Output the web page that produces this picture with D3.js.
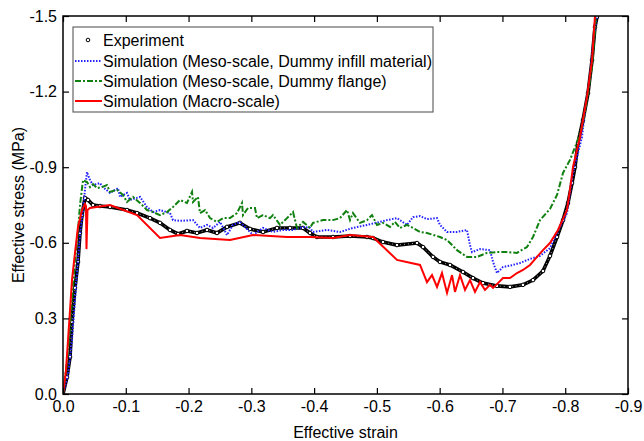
<!DOCTYPE html>
<html>
<head>
<meta charset="utf-8">
<script src="https://cdn.jsdelivr.net/npm/d3@7"></script>
<style>
  body { margin: 0; background: #fff; }
  text { font-family: "Liberation Sans", Arial, sans-serif; fill: #000; }
</style>
</head>
<body>
<div id="chart"></div>
<script>
// tick values and their printed labels (as in the original figure)
const xTicks = [0, -0.1, -0.2, -0.3, -0.4, -0.5, -0.6, -0.7, -0.8, -0.9];
const xTickLabels = ["0.0", "-0.1", "-0.2", "-0.3", "-0.4", "-0.5", "-0.6", "-0.7", "-0.8", "-0.9"];
const yTicks = [0, -0.3, -0.6, -0.9, -1.2, -1.5];
const yTickLabels = ["0.0", "0.3", "-0.6", "-0.9", "-1.2", "-1.5"];

const seriesNames = [
  "Experiment",
  "Simulation (Meso-scale, Dummy infill material)",
  "Simulation (Meso-scale, Dummy flange)",
  "Simulation (Macro-scale)"
];

// [effective strain, effective stress (MPa)]
const experiment = [
  [0,0],[-0.0064,-0.067],[-0.0112,-0.147],[-0.0143,-0.286],[-0.0191,-0.421],[-0.0239,-0.524],
  [-0.0271,-0.639],[-0.0303,-0.710],[-0.0350,-0.778],[-0.0398,-0.770],[-0.0478,-0.750],
  [-0.0589,-0.746],[-0.0749,-0.742],[-0.1019,-0.730],[-0.1179,-0.718],[-0.1386,-0.698],
  [-0.1545,-0.679],[-0.1704,-0.651],[-0.1832,-0.635],[-0.1975,-0.647],[-0.2134,-0.639],
  [-0.2294,-0.651],[-0.2453,-0.639],[-0.2612,-0.663],[-0.2819,-0.679],[-0.2979,-0.655],
  [-0.3186,-0.643],[-0.3409,-0.659],[-0.3616,-0.659],[-0.3823,-0.659],[-0.3934,-0.639],
  [-0.4046,-0.623],[-0.4301,-0.623],[-0.4572,-0.627],[-0.4843,-0.623],[-0.4938,-0.619],
  [-0.5097,-0.603],[-0.5320,-0.591],[-0.5639,-0.599],[-0.5735,-0.583],[-0.5894,-0.544],
  [-0.6005,-0.524],[-0.6165,-0.512],[-0.6372,-0.484],[-0.6531,-0.460],[-0.6690,-0.440],
  [-0.6913,-0.429],[-0.7120,-0.425],[-0.7327,-0.433],[-0.7487,-0.452],[-0.7646,-0.488],
  [-0.7757,-0.548],[-0.7869,-0.623],[-0.7965,-0.690],[-0.8044,-0.758],[-0.8108,-0.837],
  [-0.8156,-0.901],[-0.8203,-0.996],[-0.8283,-1.087],[-0.8363,-1.194],[-0.8427,-1.325],
  [-0.8474,-1.456],[-0.8506,-1.496]
];

const mesoInfill = [
  [0,0],[-0.0080,-0.075],[-0.0143,-0.214],[-0.0191,-0.373],[-0.0239,-0.532],[-0.0271,-0.631],
  [-0.0319,-0.730],[-0.0350,-0.810],[-0.0382,-0.881],[-0.0430,-0.849],[-0.0478,-0.829],
  [-0.0589,-0.837],[-0.0637,-0.821],[-0.0749,-0.798],[-0.0876,-0.817],[-0.0908,-0.782],
  [-0.1019,-0.798],[-0.1067,-0.770],[-0.1227,-0.782],[-0.1338,-0.742],[-0.1434,-0.722],
  [-0.1545,-0.730],[-0.1704,-0.718],[-0.1752,-0.690],[-0.1864,-0.687],[-0.2071,-0.690],
  [-0.2182,-0.659],[-0.2294,-0.671],[-0.2389,-0.659],[-0.2501,-0.683],[-0.2612,-0.631],
  [-0.2708,-0.671],[-0.2819,-0.683],[-0.3027,-0.631],[-0.3186,-0.659],[-0.3345,-0.643],
  [-0.3504,-0.651],[-0.3664,-0.651],[-0.3823,-0.663],[-0.3934,-0.659],[-0.3982,-0.643],
  [-0.4205,-0.651],[-0.4412,-0.643],[-0.4619,-0.659],[-0.4843,-0.671],[-0.5050,-0.683],
  [-0.5161,-0.690],[-0.5320,-0.698],[-0.5480,-0.671],[-0.5575,-0.702],[-0.5687,-0.706],
  [-0.5798,-0.694],[-0.5958,-0.698],[-0.6005,-0.671],[-0.6117,-0.643],[-0.6276,-0.643],
  [-0.6435,-0.651],[-0.6483,-0.591],[-0.6515,-0.563],[-0.6643,-0.575],[-0.6802,-0.571],
  [-0.6850,-0.524],[-0.6913,-0.480],[-0.7009,-0.504],[-0.7168,-0.512],[-0.7280,-0.520],
  [-0.7439,-0.536],[-0.7598,-0.548],[-0.7757,-0.579],[-0.7917,-0.663],[-0.8028,-0.718],
  [-0.8076,-0.798],[-0.8124,-0.877],[-0.8203,-0.956],[-0.8267,-1.020],[-0.8315,-1.127],
  [-0.8395,-1.258],[-0.8443,-1.393],[-0.8506,-1.500]
];

const mesoFlange = [
  [0,0],[-0.0048,-0.095],[-0.0096,-0.214],[-0.0143,-0.373],[-0.0191,-0.532],[-0.0239,-0.651],
  [-0.0271,-0.750],[-0.0303,-0.817],[-0.0319,-0.849],[-0.0382,-0.841],[-0.0430,-0.821],
  [-0.0478,-0.833],[-0.0542,-0.817],[-0.0621,-0.821],[-0.0701,-0.829],[-0.0749,-0.802],
  [-0.0860,-0.810],[-0.0956,-0.790],[-0.1019,-0.762],[-0.1115,-0.782],[-0.1227,-0.758],
  [-0.1338,-0.730],[-0.1434,-0.722],[-0.1545,-0.710],[-0.1657,-0.722],[-0.1752,-0.742],
  [-0.1864,-0.770],[-0.1975,-0.758],[-0.2055,-0.802],[-0.2071,-0.762],[-0.2150,-0.782],
  [-0.2182,-0.718],[-0.2262,-0.730],[-0.2342,-0.698],[-0.2453,-0.683],[-0.2549,-0.698],
  [-0.2660,-0.698],[-0.2772,-0.718],[-0.2851,-0.758],[-0.2867,-0.710],[-0.2947,-0.738],
  [-0.3058,-0.738],[-0.3090,-0.698],[-0.3186,-0.710],[-0.3297,-0.698],[-0.3345,-0.710],
  [-0.3457,-0.671],[-0.3568,-0.698],[-0.3664,-0.722],[-0.3727,-0.659],[-0.3823,-0.683],
  [-0.3934,-0.659],[-0.3982,-0.679],[-0.4142,-0.690],[-0.4301,-0.690],[-0.4412,-0.698],
  [-0.4524,-0.730],[-0.4572,-0.690],[-0.4619,-0.718],[-0.4731,-0.679],[-0.4843,-0.690],
  [-0.4922,-0.710],[-0.5002,-0.671],[-0.5097,-0.679],[-0.5209,-0.663],[-0.5288,-0.683],
  [-0.5368,-0.659],[-0.5480,-0.671],[-0.5575,-0.659],[-0.5687,-0.643],[-0.5798,-0.639],
  [-0.6005,-0.623],[-0.6117,-0.611],[-0.6276,-0.571],[-0.6435,-0.544],[-0.6595,-0.544],
  [-0.6754,-0.560],[-0.6913,-0.563],[-0.7073,-0.563],[-0.7232,-0.560],[-0.7391,-0.583],
  [-0.7487,-0.623],[-0.7598,-0.690],[-0.7757,-0.734],[-0.7869,-0.790],[-0.7965,-0.877],
  [-0.8076,-0.929],[-0.8188,-1.000],[-0.8267,-1.060],[-0.8347,-1.167],[-0.8427,-1.302],
  [-0.8474,-1.444],[-0.8490,-1.500]
];

const macro = [
  [0,0],[-0.0048,-0.095],[-0.0080,-0.214],[-0.0112,-0.333],[-0.0143,-0.452],[-0.0191,-0.560],
  [-0.0239,-0.663],[-0.0303,-0.730],[-0.0350,-0.754],[-0.0366,-0.746],[-0.0374,-0.575],
  [-0.0390,-0.730],[-0.0430,-0.738],[-0.0749,-0.750],[-0.1179,-0.710],[-0.1545,-0.619],
  [-0.1864,-0.631],[-0.2182,-0.619],[-0.2660,-0.611],[-0.3027,-0.631],[-0.3568,-0.623],
  [-0.3934,-0.623],[-0.4301,-0.619],[-0.4572,-0.631],[-0.4938,-0.623],[-0.5320,-0.532],
  [-0.5687,-0.512],[-0.5798,-0.444],[-0.5878,-0.472],[-0.5958,-0.425],[-0.6037,-0.480],
  [-0.6117,-0.401],[-0.6197,-0.472],[-0.6244,-0.405],[-0.6324,-0.472],[-0.6404,-0.413],
  [-0.6483,-0.452],[-0.6563,-0.405],[-0.6643,-0.444],[-0.6722,-0.413],[-0.6802,-0.433],
  [-0.6850,-0.421],[-0.6929,-0.440],[-0.7009,-0.460],[-0.7120,-0.460],[-0.7232,-0.480],
  [-0.7327,-0.492],[-0.7439,-0.512],[-0.7550,-0.544],[-0.7646,-0.571],[-0.7757,-0.599],
  [-0.7885,-0.651],[-0.8028,-0.730],[-0.8076,-0.810],[-0.8124,-0.901],[-0.8235,-1.020],
  [-0.8347,-1.179],[-0.8427,-1.325],[-0.8474,-1.500]
];

const margin = { top: 16, right: 16, bottom: 47, left: 63 };
const width = 644 - margin.left - margin.right;
const height = 441 - margin.top - margin.bottom;

const svg = d3.select("#chart").append("svg")
    .attr("width", 644)
    .attr("height", 441);

const g = svg.append("g")
    .attr("transform", "translate(" + margin.left + "," + margin.top + ")");

const x = d3.scaleLinear().domain([0, -0.9]).range([0, width]);
const y = d3.scaleLinear().domain([0, -1.5]).range([height, 0]);

g.append("defs").append("clipPath").attr("id", "plot-clip")
  .append("rect").attr("width", width).attr("height", height);

const line = d3.line()
    .x(d => x(d[0]))
    .y(d => y(d[1]));

const plot = g.append("g").attr("clip-path", "url(#plot-clip)");

// experiment: dense hollow circles
plot.append("path")
    .datum(experiment)
    .attr("d", line)
    .attr("fill", "none")
    .attr("stroke", "#000")
    .attr("stroke-width", 3.6);
plot.append("path")
    .datum(experiment)
    .attr("d", line)
    .attr("fill", "none")
    .attr("stroke", "#fff")
    .attr("stroke-width", 0.8)
    .attr("stroke-dasharray", "0.8,3.2");
plot.selectAll("circle.exp")
    .data(experiment)
    .enter().append("circle")
    .attr("class", "exp")
    .attr("cx", d => x(d[0]))
    .attr("cy", d => y(d[1]))
    .attr("r", 1.8)
    .attr("fill", "#fff")
    .attr("stroke", "#000")
    .attr("stroke-width", 1);

plot.append("path")
    .datum(mesoInfill)
    .attr("d", line)
    .attr("fill", "none")
    .attr("stroke", "#2222ff")
    .attr("stroke-width", 2)
    .attr("stroke-dasharray", "1.5,1.5");

plot.append("path")
    .datum(mesoFlange)
    .attr("d", line)
    .attr("fill", "none")
    .attr("stroke", "#108010")
    .attr("stroke-width", 2)
    .attr("stroke-dasharray", "6,2,2,2");

plot.append("path")
    .datum(macro)
    .attr("d", line)
    .attr("fill", "none")
    .attr("stroke", "#ff0000")
    .attr("stroke-width", 2);

// axes with inward ticks on all four sides
const xAxis = d3.axisBottom(x).tickValues(xTicks)
    .tickFormat((d, i) => xTickLabels[i]).tickSizeInner(-6).tickSizeOuter(0).tickPadding(7);
const yAxis = d3.axisLeft(y).tickValues(yTicks)
    .tickFormat((d, i) => yTickLabels[i]).tickSizeInner(-6).tickSizeOuter(0).tickPadding(6);

g.append("g")
    .attr("transform", "translate(0," + height + ")")
    .call(xAxis);
g.append("g").call(yAxis);
g.append("g")
    .call(d3.axisTop(x).tickValues(xTicks).tickFormat("").tickSizeInner(-6).tickSizeOuter(0));
g.append("g")
    .attr("transform", "translate(" + width + ",0)")
    .call(d3.axisRight(y).tickValues(yTicks).tickFormat("").tickSizeInner(-6).tickSizeOuter(0));

g.selectAll(".domain").remove();
g.selectAll(".tick line").attr("stroke", "#000").attr("stroke-width", 1.2);
g.selectAll(".tick text").style("font-size", "16px").attr("fill", "#222");

g.append("rect")
    .attr("width", width)
    .attr("height", height)
    .attr("fill", "none")
    .attr("stroke", "#000")
    .attr("stroke-width", 1.5);

// axis titles
svg.append("text")
    .attr("x", margin.left + width / 2)
    .attr("y", 438)
    .attr("text-anchor", "middle")
    .style("font-size", "16px")
    .attr("fill", "#222")
    .text("Effective strain");

svg.append("text")
    .attr("transform", "translate(24," + (margin.top + height / 2) + ") rotate(-90)")
    .attr("text-anchor", "middle")
    .style("font-size", "16px")
    .attr("fill", "#222")
    .text("Effective stress (MPa)");

// legend
const legend = svg.append("g").attr("transform", "translate(73,27)");
legend.append("rect")
    .attr("width", 360)
    .attr("height", 85)
    .attr("fill", "#fff")
    .attr("stroke", "#666")
    .attr("stroke-width", 1.2);

const rowY = [13, 34, 54, 74];
const legendStyles = [
  null,
  { stroke: "#2222ff", dash: "1.5,1.5" },
  { stroke: "#108010", dash: "6,2,2,2" },
  { stroke: "#ff0000", dash: null }
];

seriesNames.forEach(function(name, i) {
  const row = legend.append("g").attr("transform", "translate(0," + rowY[i] + ")");
  if (i === 0) {
    row.append("circle").attr("cx", 15).attr("cy", 0).attr("r", 1.8)
      .attr("fill", "#fff").attr("stroke", "#000").attr("stroke-width", 1);
  } else {
    row.append("line")
      .attr("x1", 2).attr("x2", 29).attr("y1", 0).attr("y2", 0)
      .attr("stroke", legendStyles[i].stroke)
      .attr("stroke-width", 2)
      .attr("stroke-dasharray", legendStyles[i].dash);
  }
  row.append("text")
    .attr("x", 30)
    .attr("y", 0)
    .attr("dy", "0.35em")
    .style("font-size", "16px")
    .attr("fill", "#222")
    .text(name);
});
</script>
</body>
</html>
